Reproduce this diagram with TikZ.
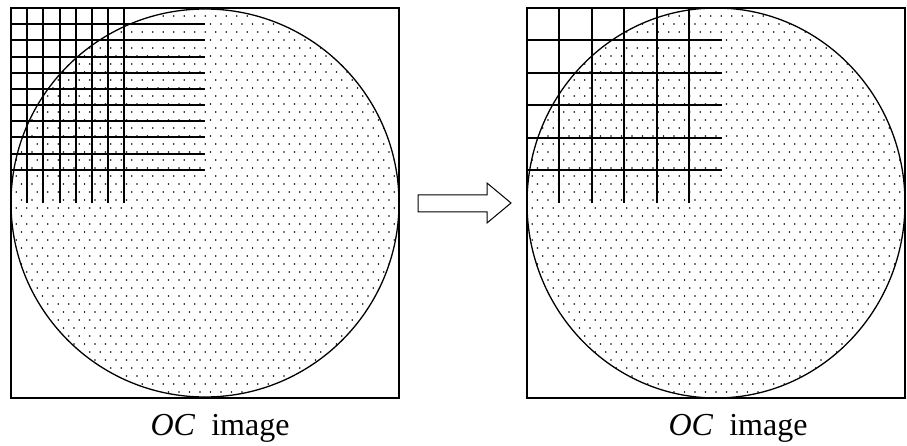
\documentclass[tikz,border=0pt]{standalone}
\usepackage{fontspec}
\setmainfont{Liberation Serif}
\begin{document}
\begin{tikzpicture}[x=1pt,y=-1pt,
  frame/.style={line width=1.8pt},
  rim/.style={line width=1.3pt},
  gridline/.style={line width=1.4pt},
  label/.style={font=\fontsize{32}{36}\selectfont, anchor=base},
  blockarrow/.style={line width=1pt, fill=white, line join=miter}]
\useasboundingbox (0,0) rectangle (907,446);
% ---------- left panel ----------
\coordinate (LA) at (11,8);
\coordinate (LB) at (399,398);
\coordinate (LC) at (205,203);
\begin{scope}
  \clip (LC) circle[radius=194];
  \foreach \j in {0,...,50} {
    \pgfmathsetmacro{\yy}{8+8*\j}
    \pgfmathsetmacro{\off}{mod(\j,2)*5.25}
    \foreach \i in {0,...,38} {
      \fill (11+\off+10.5*\i,\yy) circle[radius=0.95];
    }
  }
\end{scope}
\foreach \k in {1,...,10} {
  \pgfmathsetmacro{\p}{round(8+16.17*\k)}
  \draw[gridline] (11,\p) -- (205,\p);
}
\foreach \k in {1,...,7} {
  \pgfmathsetmacro{\p}{round(11+16.17*\k)}
  \draw[gridline] (\p,8) -- (\p,203);
}
\draw[rim] (LC) circle[radius=194];
\draw[frame] (LA) rectangle (LB);
\node[label] (L1) at (220,435) {\textit{OC}\ \ image};
% ---------- arrow ----------
\draw[blockarrow] (418,195) -- (487,195) -- (487,183) -- (511,203) -- (487,223) -- (487,212) -- (418,212) -- cycle;
% ---------- right panel ----------
\coordinate (RA) at (527,8);
\coordinate (RB) at (905,398);
\coordinate (RC) at (716,203);
\begin{scope}
  \clip (RC) ellipse[x radius=189, y radius=195];
  \foreach \j in {0,...,50} {
    \pgfmathsetmacro{\yy}{8+8*\j}
    \pgfmathsetmacro{\off}{mod(\j,2)*5.25}
    \foreach \i in {0,...,38} {
      \fill (527+\off+10.5*\i,\yy) circle[radius=0.95];
    }
  }
\end{scope}
\foreach \k in {1,...,5} {
  \pgfmathsetmacro{\p}{round(8+32.4*\k)}
  \draw[gridline] (527,\p) -- (722,\p);
}
\foreach \k in {1,...,5} {
  \pgfmathsetmacro{\p}{round(527+32.4*\k)}
  \draw[gridline] (\p,8) -- (\p,203);
}
\draw[rim] (RC) ellipse[x radius=189, y radius=195];
\draw[frame] (RA) rectangle (RB);
\node[label] (R1) at (738,435) {\textit{OC}\ \ image};
\end{tikzpicture}
\end{document}
